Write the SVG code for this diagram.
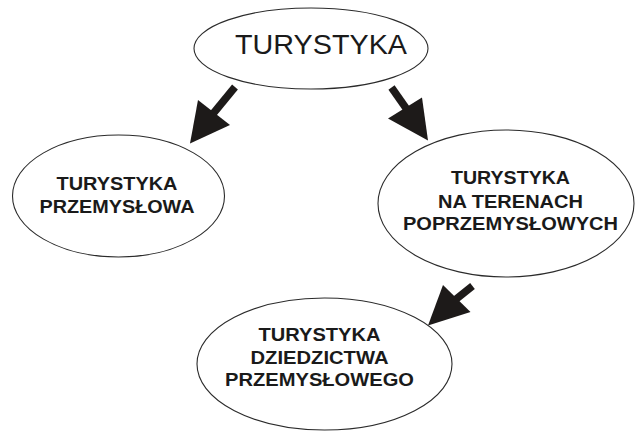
<svg xmlns="http://www.w3.org/2000/svg" width="636" height="432" viewBox="0 0 636 432">
<style>
.node ellipse{fill:#fff;stroke:#2b2b2b;stroke-width:1.1}
.t{font-family:"Liberation Sans",Arial,sans-serif;fill:#1a1a1a}
.b{font-weight:bold;font-size:18.5px}
.shaft{stroke:#1d1a19;stroke-width:7.5;fill:none}
.head{fill:#1d1a19}
</style>
<rect width="636" height="432" fill="#fff"/>
<g id="connectors">
<line class="shaft" x1="235" y1="87" x2="212" y2="115"/>
<polygon class="head" points="198,100 230,125 190,143.5"/>
<line class="shaft" x1="391.5" y1="87.5" x2="408" y2="111"/>
<polygon class="head" points="388,118.5 422,97.5 428,140.5"/>
<line class="shaft" x1="472.5" y1="286" x2="455" y2="300"/>
<polygon class="head" points="443,285 470.5,312 428,325.5"/>
</g>
<g id="n-turystyka" class="node">
<ellipse cx="311" cy="48.5" rx="117" ry="40.5"/>
<text class="t" x="235" y="54" font-size="27" textLength="172" lengthAdjust="spacingAndGlyphs">TURYSTYKA</text>
</g>
<g id="n-przemyslowa" class="node">
<ellipse cx="118.5" cy="196" rx="106" ry="61"/>
<text class="t b" x="56.5" y="190" textLength="121" lengthAdjust="spacingAndGlyphs">TURYSTYKA</text>
<text class="t b" x="39.5" y="213" textLength="155" lengthAdjust="spacingAndGlyphs">PRZEMYSŁOWA</text>
</g>
<g id="n-poprzemyslowe" class="node">
<ellipse cx="506" cy="203.5" rx="128" ry="73.5"/>
<text class="t b" x="451" y="184" textLength="119" lengthAdjust="spacingAndGlyphs">TURYSTYKA</text>
<text class="t b" x="438" y="207.5" textLength="145" lengthAdjust="spacingAndGlyphs">NA TERENACH</text>
<text class="t b" x="403" y="230" textLength="215" lengthAdjust="spacingAndGlyphs">POPRZEMYSŁOWYCH</text>
</g>
<g id="n-dziedzictwo" class="node">
<ellipse cx="324.5" cy="364" rx="127.5" ry="66"/>
<text class="t b" x="258.5" y="341" textLength="122" lengthAdjust="spacingAndGlyphs">TURYSTYKA</text>
<text class="t b" x="250.5" y="364" textLength="138" lengthAdjust="spacingAndGlyphs">DZIEDZICTWA</text>
<text class="t b" x="225" y="385.5" textLength="189" lengthAdjust="spacingAndGlyphs">PRZEMYSŁOWEGO</text>
</g>
</svg>
